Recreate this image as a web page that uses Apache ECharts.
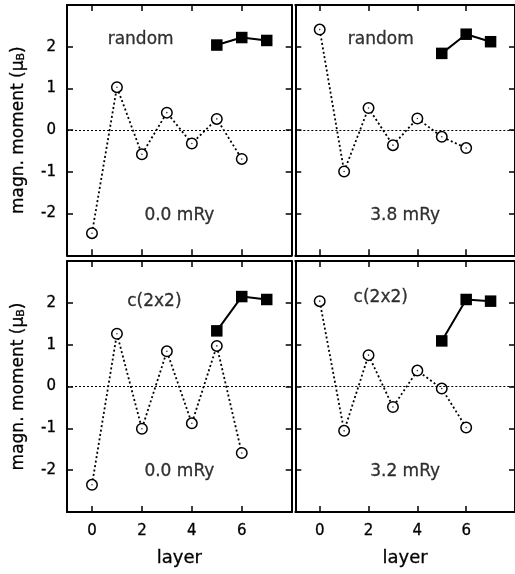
<!DOCTYPE html>
<html>
<head>
<meta charset="utf-8">
<script src="https://cdn.jsdelivr.net/npm/echarts@6/dist/echarts.min.js"></script>
<style>
  html, body { margin: 0; padding: 0; background: #fff; }
  #chart { width: 515px; height: 574px; }
</style>
</head>
<body>
<div id="chart"></div>
<script>
// Layer indices of the film and the surface (overlayer) sites
const layers = [0, 1, 2, 3, 4, 5, 6];
const surfaceLayers = [5, 6, 7];

// Tick values of both axes
const layerTicks = [0, 2, 4, 6];
const momentTicks = [-2, -1, 0, 1, 2];

// Magnetic moments (mu_B), open circles = substrate layers, filled squares = overlayer
const randomZeroCircles  = [-2.47, 1.03, -0.58, 0.42, -0.32, 0.27, -0.69];
const randomZeroSquares  = [2.04, 2.22, 2.15];
const randomAnisoCircles = [2.41, -0.99, 0.53, -0.36, 0.28, -0.16, -0.43];
const randomAnisoSquares = [1.84, 2.30, 2.12];
const c2x2ZeroCircles    = [-2.35, 1.26, -1.01, 0.84, -0.88, 0.97, -1.59];
const c2x2ZeroSquares    = [1.33, 2.15, 2.08];
const c2x2AnisoCircles   = [2.04, -1.06, 0.75, -0.49, 0.38, -0.05, -0.98];
const c2x2AnisoSquares   = [1.09, 2.08, 2.04];

// Panel captions
const panelTitles   = ['random', 'random', 'c(2x2)', 'c(2x2)'];
const panelEnergies = ['0.0 mRy', '3.8 mRy', '0.0 mRy', '3.2 mRy'];

const circleSets = [randomZeroCircles, randomAnisoCircles, c2x2ZeroCircles, c2x2AnisoCircles];
const squareSets = [randomZeroSquares, randomAnisoSquares, c2x2ZeroSquares, c2x2AnisoSquares];

// Where the captions sit, in layer / moment units
const titleAnchors  = [[1.95, 2.16], [2.5, 2.16], [2.5, 2.03], [2.5, 2.13]];
const energyAnchors = [[3.5, -2.05], [3.5, -2.05], [3.5, -2.04], [3.5, -2.04]];

const FONT = '"DejaVu Sans", Verdana, sans-serif';
const INK = '#000';
// slight stroke so the glyphs read as dark as the drawn marks
const textInk = { color: INK, fontFamily: FONT, textBorderColor: INK, textBorderWidth: 0.3 };

// Panel frames in pixels
const panelW = 224.7;
const panelBoxes = [
  { left: 67,    top: 5,   height: 250.3 },
  { left: 295.3, top: 5,   height: 250.3 },
  { left: 67,    top: 261, height: 251 },
  { left: 295.3, top: 261, height: 251 }
];

const grid = [], xAxis = [], yAxis = [], series = [];

panelBoxes.forEach((box, i) => {
  const isLeft = i % 2 === 0;
  const isBottom = i >= 2;
  grid.push({ left: box.left, top: box.top, width: panelW, height: box.height, containLabel: false });

  const tick = { inside: true, length: 6, lineStyle: { color: INK, width: 1.5 } };
  const line = { show: true, onZero: false, lineStyle: { color: INK, width: 2 } };

  ['bottom', 'top'].forEach(pos => {
    const labelled = isBottom && pos === 'bottom';
    xAxis.push({
      type: 'value', gridIndex: i, position: pos, min: -1, max: 8,
      splitLine: { show: false },
      axisLine: line,
      axisTick: Object.assign({ customValues: layerTicks }, tick),
      axisLabel: Object.assign({
        show: labelled, customValues: layerTicks, margin: 12, fontSize: 15
      }, textInk),
      name: labelled ? 'layer' : '',
      nameLocation: 'middle', nameGap: 37,
      nameTextStyle: Object.assign({ fontSize: 18 }, textInk)
    });
  });

  ['left', 'right'].forEach(pos => {
    const labelled = isLeft && pos === 'left';
    yAxis.push({
      type: 'value', gridIndex: i, position: pos, min: -3, max: 3, interval: 1,
      splitLine: { show: false },
      axisLine: line,
      axisTick: Object.assign({ customValues: momentTicks }, tick),
      axisLabel: Object.assign({
        show: labelled, customValues: momentTicks, margin: 11, fontSize: 15
      }, textInk),
      name: labelled ? '{m|magn. moment (μ}{s|B}{m|)}' : '',
      nameLocation: 'middle', nameRotate: 90, nameGap: 40,
      nameTextStyle: Object.assign({
        rich: {
          m: Object.assign({ fontSize: 17 }, textInk),
          s: Object.assign({ fontSize: 11, verticalAlign: 'bottom', lineHeight: 11 }, textInk)
        }
      }, textInk)
    });
  });

  const xi = 2 * i, yi = 2 * i;

  // substrate layers: dotted line with open circles, plus the zero reference
  series.push({
    type: 'line', xAxisIndex: xi, yAxisIndex: yi,
    data: layers.map((l, k) => [l, circleSets[i][k]]),
    symbol: 'circle', symbolSize: 10.5,
    itemStyle: { color: '#fff', borderColor: INK, borderWidth: 1.5 },
    lineStyle: { color: INK, width: 1.8, type: [2, 2.5] },
    z: 3, silent: true, animation: false,
    markLine: {
      silent: true, symbol: ['none', 'none'], label: { show: false },
      lineStyle: { color: INK, width: 1, type: [2, 2] },
      data: [{ yAxis: 0 }], animation: false
    }
  });
  // tiny centre dots of the circles
  series.push({
    type: 'scatter', xAxisIndex: xi, yAxisIndex: yi,
    data: layers.map((l, k) => [l, circleSets[i][k]]),
    symbol: 'circle', symbolSize: 1.6,
    itemStyle: { color: INK }, z: 4, silent: true, animation: false
  });
  // overlayer: solid line with filled squares
  series.push({
    type: 'line', xAxisIndex: xi, yAxisIndex: yi,
    data: surfaceLayers.map((l, k) => [l, squareSets[i][k]]),
    symbol: 'rect', symbolSize: 11.5,
    itemStyle: { color: INK, borderWidth: 0 },
    lineStyle: { color: INK, width: 2, type: 'solid' },
    z: 5, silent: true, animation: false
  });
  // captions
  series.push({
    type: 'scatter', xAxisIndex: xi, yAxisIndex: yi,
    data: [
      { value: titleAnchors[i], name: panelTitles[i] },
      { value: energyAnchors[i], name: panelEnergies[i] }
    ],
    symbol: 'circle', symbolSize: 0.01,
    itemStyle: { color: 'rgba(0,0,0,0)' },
    label: Object.assign({
      show: true, position: 'inside', formatter: p => p.name, fontSize: 17
    }, textInk),
    z: 6, silent: true, animation: false
  });
});

const chart = echarts.init(document.getElementById('chart'), null, { renderer: 'canvas' });
chart.setOption({
  backgroundColor: '#fff',
  animation: false,
  grid, xAxis, yAxis, series
});
</script>
</body>
</html>
